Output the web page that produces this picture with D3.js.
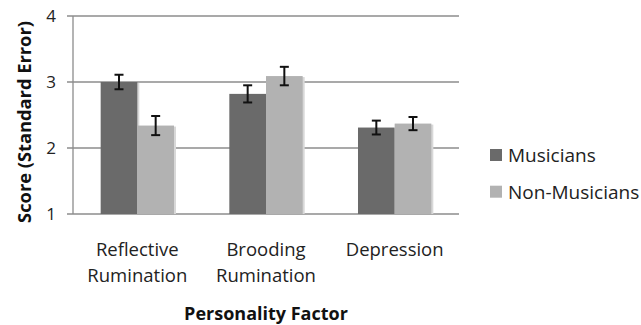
<!DOCTYPE html>
<html><head><meta charset="utf-8">
<script src="https://cdn.jsdelivr.net/npm/d3@7"></script>
<style>body{margin:0;background:#fff}svg{display:block}text{font-family:"Open Sans",sans-serif}</style>
</head><body><svg id="c" width="641" height="325"></svg>
<script>
const categories = [["Reflective","Rumination"],["Brooding","Rumination"],["Depression"]];
const seriesNames = ["Musicians","Non-Musicians"];
const musicians = [3.00, 2.82, 2.31];
const nonMusicians = [2.34, 3.09, 2.37];
const musiciansErr = [0.11, 0.13, 0.105];
const nonMusiciansErr = [0.145, 0.14, 0.10];
const yTicks = [1, 2, 3, 4];
const colors = ["#6a6a6a", "#b2b2b2"];

const svg = d3.select("#c");
const pL = 73, pR = 459, pT = 16, pB = 214;
const x0 = d3.scaleBand().domain(d3.range(categories.length)).range([pL, pR]).paddingInner(0.43).paddingOuter(0.215);
const x1 = d3.scaleBand().domain(d3.range(seriesNames.length)).range([0, x0.bandwidth()]);
const y = d3.scaleLinear().domain([1, 4]).range([pB, pT]);
const color = d3.scaleOrdinal().domain(d3.range(2)).range(colors);

// gridlines
svg.append("g").selectAll("line").data(yTicks).join("line")
  .attr("x1", pL - 6).attr("x2", pR)
  .attr("y1", d => y(d)).attr("y2", d => y(d))
  .attr("stroke", "#8c8c8c").attr("stroke-width", 1.3);
// y axis line
svg.append("line").attr("x1", pL).attr("x2", pL).attr("y1", pT).attr("y2", pB)
  .attr("stroke", "#8c8c8c").attr("stroke-width", 1.3);
// tick labels
svg.append("g").selectAll("text").data(yTicks).join("text")
  .attr("x", pL - 17).attr("y", d => y(d)).attr("dy", "0.36em")
  .attr("text-anchor", "end").attr("font-size", 17).attr("fill", "#222").text(d => d);

const data = categories.map((c, i) => ({i, vals: [
  {s: 0, v: musicians[i], e: musiciansErr[i]},
  {s: 1, v: nonMusicians[i], e: nonMusiciansErr[i]}]}));

const g = svg.append("g").selectAll("g").data(data).join("g")
  .attr("transform", d => `translate(${x0(d.i)},0)`);
// shadows
g.selectAll("rect.sh").data(d => d.vals).join("rect").attr("class","sh")
  .attr("x", d => x1(d.s) + 2).attr("width", x1.bandwidth())
  .attr("y", d => y(d.v) + 1).attr("height", d => y(1) - y(d.v) - 1)
  .attr("fill", "#d8d8d8");
g.selectAll("rect.b").data(d => d.vals).join("rect").attr("class","b")
  .attr("x", d => x1(d.s)).attr("width", x1.bandwidth())
  .attr("y", d => y(d.v)).attr("height", d => y(1) - y(d.v))
  .attr("fill", d => color(d.s));
// error bars
const eb = g.selectAll("g.e").data(d => d.vals).join("g").attr("class","e")
  .attr("stroke", "#111").attr("stroke-width", 2);
eb.append("line").attr("x1", d => x1(d.s) + x1.bandwidth()/2).attr("x2", d => x1(d.s) + x1.bandwidth()/2)
  .attr("y1", d => y(d.v + d.e)).attr("y2", d => y(d.v - d.e));
eb.append("line").attr("x1", d => x1(d.s) + x1.bandwidth()/2 - 4.5).attr("x2", d => x1(d.s) + x1.bandwidth()/2 + 4.5)
  .attr("y1", d => y(d.v + d.e)).attr("y2", d => y(d.v + d.e));
eb.append("line").attr("x1", d => x1(d.s) + x1.bandwidth()/2 - 4.5).attr("x2", d => x1(d.s) + x1.bandwidth()/2 + 4.5)
  .attr("y1", d => y(d.v - d.e)).attr("y2", d => y(d.v - d.e));

// category labels
svg.append("g").selectAll("text").data(categories).join("text")
  .attr("x", (d, i) => x0(i) + x0.bandwidth()/2).attr("y", 256)
  .attr("text-anchor", "middle").attr("font-size", 18.5).attr("fill", "#222")
  .each(function(d){
    const t = d3.select(this);
    t.selectAll("tspan").data(d).join("tspan")
      .attr("x", t.attr("x")).attr("dy", (s, k) => k ? 25.5 : 0).text(s => s);
  });

// axis titles
svg.append("text").attr("x", (pL + pR)/2).attr("y", 320).attr("text-anchor", "middle")
  .attr("font-size", 18).attr("font-weight", "bold").attr("fill", "#111").text("Personality Factor");
svg.append("text").attr("transform", `translate(31,122) rotate(-90)`)
  .attr("text-anchor", "middle").attr("font-size", 18.3).attr("font-weight", "bold").attr("fill", "#111")
  .text("Score (Standard Error)");

// legend
const lg = svg.append("g").selectAll("g").data(seriesNames).join("g")
  .attr("transform", (d, i) => `translate(490,${155 + i*36.7})`);
lg.append("rect").attr("x", 0).attr("y", -6).attr("width", 12).attr("height", 12).attr("fill", (d, i) => colors[i]);
lg.append("text").attr("x", 18).attr("dy", "0.36em").attr("font-size", 19).attr("fill", "#222").text(d => d);
</script></body></html>
